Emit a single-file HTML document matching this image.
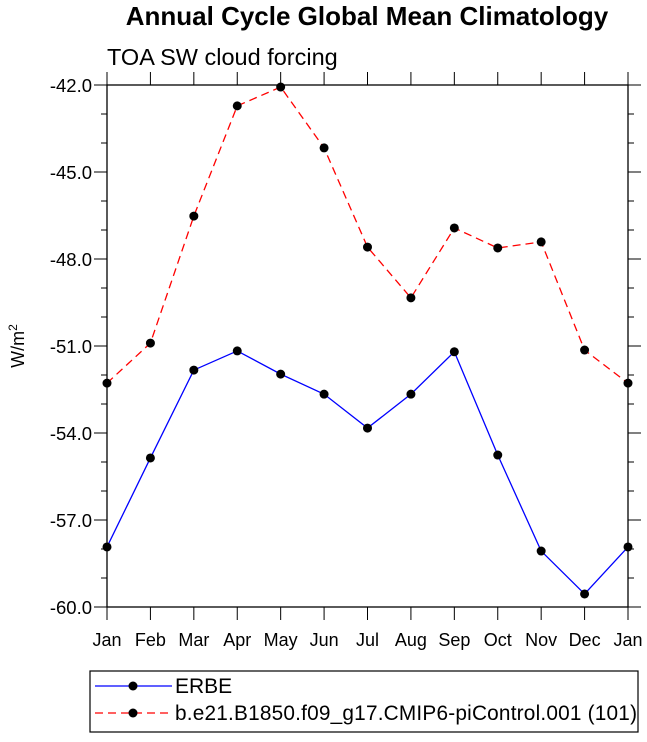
<!DOCTYPE html>
<html><head><meta charset="utf-8"><style>
body{margin:0;background:#fff}
svg{display:block;font-family:"Liberation Sans",sans-serif}
</style></head><body>
<svg id="chart" width="647" height="742">
<text x="367" y="25" font-size="26" font-weight="bold" text-anchor="middle">Annual Cycle Global Mean Climatology</text>
<text x="107" y="65" font-size="23.5">TOA SW cloud forcing</text>
<text transform="translate(24,346) rotate(-90)" font-size="18" text-anchor="middle">W/m<tspan dy="-7" font-size="12">2</tspan></text>
<g id="axes"></g><g id="series"></g>
<rect x="90" y="671" width="548" height="61" fill="none" stroke="#000" stroke-width="1.2"/>
<g>
<line x1="95" y1="686" x2="172" y2="686" stroke="#0000ff" stroke-width="1.3"/><circle cx="133" cy="686" r="4.5"/>
<text x="175" y="693" font-size="21">ERBE</text></g>
<g>
<line x1="95" y1="713" x2="172" y2="713" stroke="#ff0000" stroke-width="1.3" stroke-dasharray="8,5"/><circle cx="133" cy="713" r="4.5"/>
<text x="175" y="720" font-size="20.8" textLength="462" lengthAdjust="spacing">b.e21.B1850.f09_g17.CMIP6-piControl.001 (101)</text></g>
</svg>
<script>
const months=["Jan","Feb","Mar","Apr","May","Jun","Jul","Aug","Sep","Oct","Nov","Dec","Jan"];
const erbe=[-57.93,-54.86,-51.83,-51.17,-51.97,-52.66,-53.83,-52.66,-51.2,-54.76,-58.07,-59.55,-57.93];
const model=[-52.28,-50.9,-46.52,-42.72,-42.07,-44.17,-47.59,-49.34,-46.93,-47.62,-47.41,-51.14,-52.28];
const yTicks=[-42,-45,-48,-51,-54,-57,-60];
const NS="http://www.w3.org/2000/svg";
const L=107,R=628,T=85,B=607,yMin=-60,yMax=-42;
const xs=i=>L+i*(R-L)/12;
const ys=v=>B-(v-yMin)/(yMax-yMin)*(B-T);
function mk(tag,attrs,parent){const e=document.createElementNS(NS,tag);for(const k in attrs)e.setAttribute(k,attrs[k]);parent.appendChild(e);return e;}
const ax=document.getElementById('axes');
const fr=mk('rect',{x:L,y:T,width:R-L,height:B-T,fill:'none',stroke:'#000','stroke-width':1.3},ax);


for(let v=yMin;v<=yMax;v+=1){const maj=yTicks.includes(v);const len=maj?13:6;
 mk('line',{x1:L-len,y1:ys(v),x2:L,y2:ys(v),stroke:'#000','stroke-width':1},ax);
 mk('line',{x1:R,y1:ys(v),x2:R+len,y2:ys(v),stroke:'#000','stroke-width':1},ax);}
yTicks.forEach(v=>{const t=mk('text',{x:L-15,y:ys(v)+7,'font-size':18.5,'text-anchor':'end'},ax);t.textContent=v.toFixed(1);
 
 });
months.forEach((m,i)=>{const x=xs(i);
 mk('line',{x1:x,y1:B,x2:x,y2:B+13,stroke:'#000','stroke-width':1},ax);
 mk('line',{x1:x,y1:T-13,x2:x,y2:T,stroke:'#000','stroke-width':1},ax);
 const t=mk('text',{x:x,y:B+39,'font-size':18,'text-anchor':'middle'},ax);t.textContent=m;
 
 });
const sg=document.getElementById('series');
function draw(vals,color,dash,name){
 const p=mk('polyline',{points:vals.map((v,i)=>xs(i)+','+ys(v)).join(' '),fill:'none',stroke:color,'stroke-width':1.3,'stroke-dasharray':dash},sg);
 
 
 vals.forEach((v,i)=>{const c=mk('circle',{cx:xs(i),cy:ys(v),r:4.5,fill:'#000'},sg);
  
  });
}
draw(erbe,'#0000ff','none','erbe');
draw(model,'#ff0000','8,5','model');
</script>
</body></html>
